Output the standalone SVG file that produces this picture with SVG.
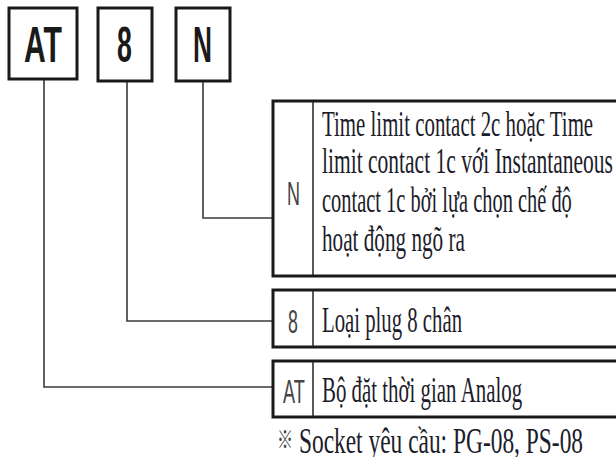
<svg xmlns="http://www.w3.org/2000/svg" width="616" height="457" viewBox="0 0 616 457">
<style>
.box{fill:#fff;stroke:#1a1a1a;stroke-width:3}
.div{stroke:#222;stroke-width:1.5}
.con{fill:none;stroke:#3a3a3a;stroke-width:1.6}
.big{font-family:"Liberation Sans",Arial,sans-serif;font-weight:bold;font-size:50px;fill:#1a1a1a}
.lab{font-family:"Liberation Sans",Arial,sans-serif;font-size:34px;fill:#444}
.txt{font-family:"Liberation Serif","Times New Roman",serif;font-size:35px;fill:#1c1c2a}
</style>
<rect width="616" height="457" fill="#fff"/>
<g id="connectors">
<polyline class="con" points="203,81 203,218 273,218"/>
<polyline class="con" points="127,81 127,321 273,321"/>
<polyline class="con" points="44,79 44,387 273,387"/>
</g>
<g id="code-AT">
<rect class="box" x="9" y="8" width="68" height="71"/>
<text class="big" transform="matrix(0.55,0,0,1,24,62)" textLength="69" lengthAdjust="spacingAndGlyphs">AT</text>
</g>
<g id="code-8">
<rect class="box" x="98" y="8" width="54" height="73"/>
<text class="big" transform="matrix(0.55,0,0,1,117,62)" textLength="27" lengthAdjust="spacingAndGlyphs">8</text>
</g>
<g id="code-N">
<rect class="box" x="176" y="8" width="54" height="73"/>
<text class="big" transform="matrix(0.55,0,0,1,193,62)" textLength="34.5" lengthAdjust="spacingAndGlyphs">N</text>
</g>
<g id="desc-N">
<rect class="box" x="273" y="101" width="350" height="175"/>
<line class="div" x1="313" y1="102" x2="313" y2="275"/>
<text class="lab" transform="matrix(0.52,0,0,1,287,205)" textLength="25" lengthAdjust="spacingAndGlyphs">N</text>
<text class="txt" transform="matrix(0.592,0,0,1,322,136)" textLength="458" lengthAdjust="spacingAndGlyphs">Time limit contact 2c hoặc Time</text>
<text class="txt" transform="matrix(0.592,0,0,1,322,173)" textLength="491.5" lengthAdjust="spacingAndGlyphs">limit contact 1c với Instantaneous</text>
<text class="txt" transform="matrix(0.592,0,0,1,322,212)" textLength="422" lengthAdjust="spacingAndGlyphs">contact 1c bởi lựa chọn chế độ</text>
<text class="txt" transform="matrix(0.592,0,0,1,322,251)" textLength="241.5" lengthAdjust="spacingAndGlyphs">hoạt động ngõ ra</text>
</g>
<g id="desc-8">
<rect class="box" x="273" y="290" width="350" height="57"/>
<line class="div" x1="313" y1="291" x2="313" y2="346"/>
<text class="lab" transform="matrix(0.52,0,0,1,288,333)" textLength="19" lengthAdjust="spacingAndGlyphs">8</text>
<text class="txt" transform="matrix(0.592,0,0,1,322,332)" textLength="236.5" lengthAdjust="spacingAndGlyphs">Loại plug 8 chân</text>
</g>
<g id="desc-AT">
<rect class="box" x="273" y="361" width="350" height="56"/>
<line class="div" x1="313" y1="362" x2="313" y2="416"/>
<text class="lab" transform="matrix(0.52,0,0,1,283,403)" textLength="42" lengthAdjust="spacingAndGlyphs">AT</text>
<text class="txt" transform="matrix(0.592,0,0,1,322,402)" textLength="338" lengthAdjust="spacingAndGlyphs">Bộ đặt thời gian Analog</text>
</g>
<g id="note">
<text class="txt" transform="matrix(0.592,0,0,1,277,453)" textLength="517" lengthAdjust="spacingAndGlyphs"><tspan font-family="'Noto Sans CJK JP','DejaVu Sans',sans-serif" font-size="24" fill="#444" dy="-5">※</tspan><tspan dy="5"> Socket yêu cầu: PG-08, PS-08</tspan></text>
</g>
</svg>
